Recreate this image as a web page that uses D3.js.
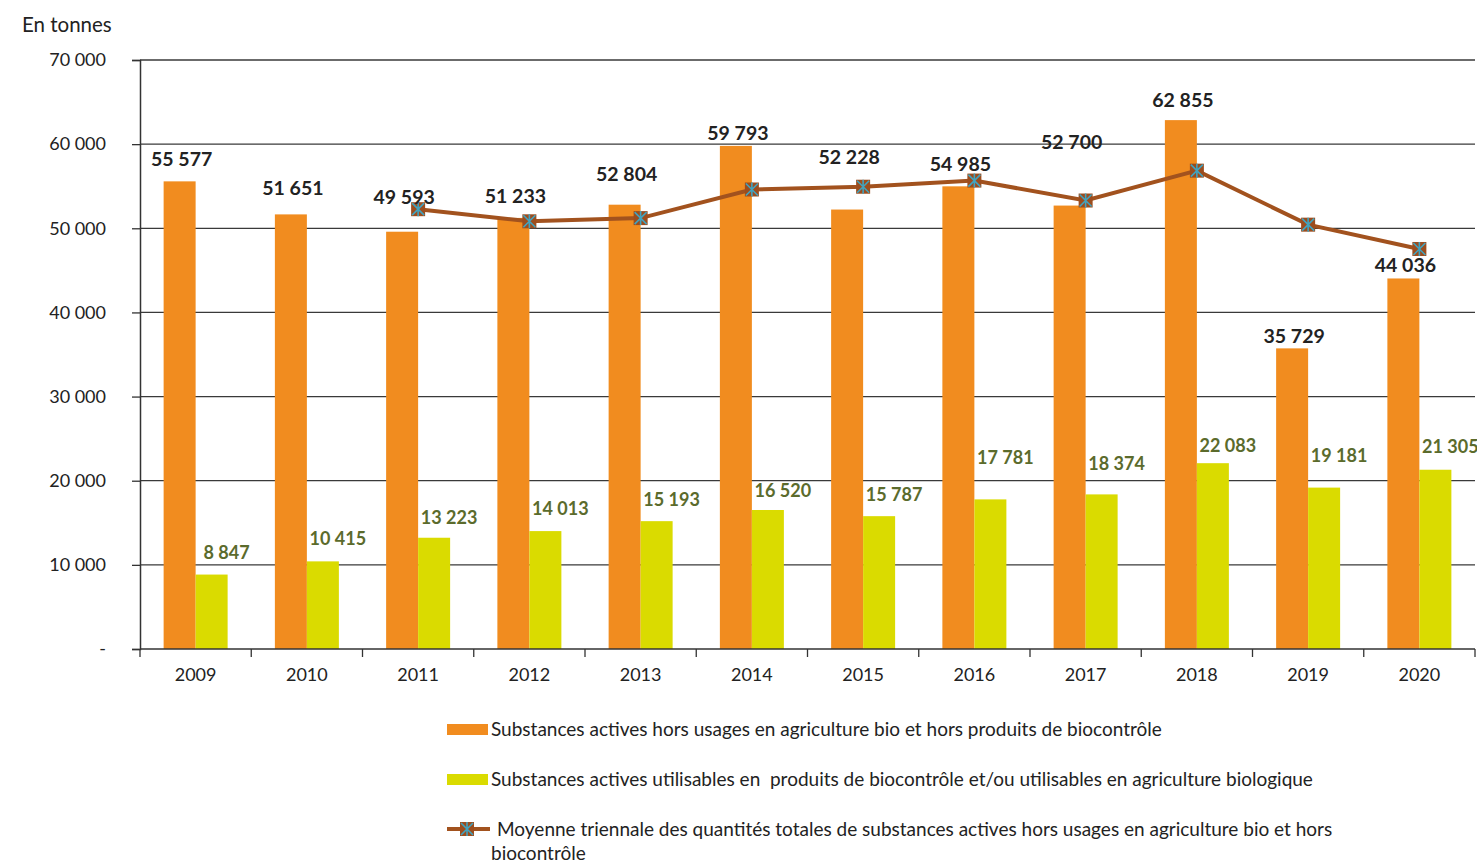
<!DOCTYPE html>
<html>
<head>
<meta charset="utf-8">
<style>
  body { margin: 0; background: #fff; }
  text { font-family: Lato, "Open Sans", sans-serif; white-space: pre; }
</style>
</head>
<body>
<script src="https://d3js.org/d3.v7.min.js"></script>
<script>
  // data
  var years = ['2009', '2010', '2011', '2012', '2013', '2014', '2015', '2016', '2017', '2018', '2019', '2020'];
  var horsBio = [55577, 51651, 49593, 51233, 52804, 59793, 52228, 54985, 52700, 62855, 35729, 44036];
  var biocontrole = [8847, 10415, 13223, 14013, 15193, 16520, 15787, 17781, 18374, 22083, 19181, 21305];
  var moyenneYears = ['2011', '2012', '2013', '2014', '2015', '2016', '2017', '2018', '2019', '2020'];
  var moyenne = [52270, 50830, 51210, 54610, 54940, 55670, 53300, 56850, 50430, 47540];
  var yTicks = [0, 10000, 20000, 30000, 40000, 50000, 60000, 70000];
  var legendLabels = [
    'Substances actives hors usages en agriculture bio et hors produits de biocontrôle',
    'Substances actives utilisables en  produits de biocontrôle et/ou utilisables en agriculture biologique',
    'Moyenne triennale des quantités totales de substances actives hors usages en agriculture bio et hors',
    'biocontrôle'
  ];

  // label lifts above bar tops (px), as placed in the original
  var orangeLift = [22, 26, 35, 22, 31, 13, 52, 22, 63, 20, 12, 13];
  var yellowLift = [22, 23, 20, 22, 21, 19, 21, 42, 31, 17, 32, 23];

  var W = 1477, H = 863;
  var colors = { orange: '#f18c1f', yellow: '#dadb00', line: '#a2521e', marker: '#9c4d1e', star: '#41a3bf' };
  var fmt = function(v) { return d3.format(',')(v).replace(/,/g, ' '); };

  var svg = d3.select('body').append('svg')
    .attr('width', W)
    .attr('height', H);

  var x = d3.scaleBand().domain(years).range([140, 1475]);
  var y = d3.scaleLinear().domain([0, 70000]).range([649, 60]);
  var barW = 32;

  // gridlines
  svg.append('g').selectAll('line')
    .data(yTicks.slice(1))
    .join('line')
      .attr('x1', 140).attr('x2', 1475)
      .attr('y1', d => y(d)).attr('y2', d => y(d))
      .attr('stroke', '#3a3a3a').attr('stroke-width', 1.3);

  // bars
  var g = svg.append('g');
  g.selectAll('.o').data(years).join('rect')
    .attr('x', d => x(d) + x.bandwidth() / 2 - barW)
    .attr('y', (d, i) => y(horsBio[i]))
    .attr('width', barW)
    .attr('height', (d, i) => y(0) - y(horsBio[i]))
    .attr('fill', colors.orange);
  g.selectAll('.yb').data(years).join('rect')
    .attr('x', d => x(d) + x.bandwidth() / 2)
    .attr('y', (d, i) => y(biocontrole[i]))
    .attr('width', barW)
    .attr('height', (d, i) => y(0) - y(biocontrole[i]))
    .attr('fill', colors.yellow);

  // axes
  var yAxis = svg.append('g')
    .attr('transform', 'translate(140,0)')
    .call(d3.axisLeft(y).tickValues(yTicks).tickSize(8).tickPadding(26)
      .tickFormat(d => d === 0 ? '-' : fmt(d)));
  yAxis.select('.domain').attr('stroke', '#333').attr('stroke-width', 1.5);
  yAxis.selectAll('.tick line').attr('stroke', '#333').attr('stroke-width', 1.3);
  yAxis.selectAll('text').attr('font-size', 18).attr('fill', '#222');

  svg.append('line')
    .attr('x1', 140).attr('x2', 1475)
    .attr('y1', y(0)).attr('y2', y(0))
    .attr('stroke', '#333').attr('stroke-width', 1.5);
  svg.append('g').selectAll('line')
    .data(years.concat(['end']))
    .join('line')
      .attr('x1', (d, i) => 140 + i * x.step())
      .attr('x2', (d, i) => 140 + i * x.step())
      .attr('y1', y(0)).attr('y2', y(0) + 8)
      .attr('stroke', '#333').attr('stroke-width', 1.3);
  svg.append('g').selectAll('text')
    .data(years)
    .join('text')
      .attr('x', d => x(d) + x.bandwidth() / 2)
      .attr('y', 681)
      .attr('text-anchor', 'middle')
      .attr('font-size', 18).attr('fill', '#222')
      .text(d => d);

  svg.append('text')
    .attr('x', 22).attr('y', 32)
    .attr('font-size', 20.5).attr('fill', '#222')
    .text('En tonnes');

  // line
  var line = d3.line()
    .x((d, i) => x(moyenneYears[i]) + x.bandwidth() / 2)
    .y(d => y(d));
  svg.append('path')
    .attr('d', line(moyenne))
    .attr('fill', 'none')
    .attr('stroke', colors.line)
    .attr('stroke-width', 4);

  function marker(sel) {
    sel.append('rect').attr('x', -7).attr('y', -7).attr('width', 14).attr('height', 14).attr('fill', colors.marker);
    sel.append('path').attr('d', 'M-6,-6L6,6M-6,6L6,-6M0,-7L0,7')
      .attr('stroke', colors.star).attr('stroke-width', 1.6);
  }
  svg.append('g').selectAll('g')
    .data(moyenne)
    .join('g')
      .attr('transform', (d, i) => `translate(${x(moyenneYears[i]) + x.bandwidth() / 2},${y(d)})`)
      .each(function() { marker(d3.select(this)); });

  // value labels
  svg.append('g').selectAll('text')
    .data(horsBio)
    .join('text')
      .attr('x', (d, i) => x(years[i]) + x.bandwidth() / 2 - barW / 2 + 2)
      .attr('y', (d, i) => y(d) - orangeLift[i])
      .attr('dy', '0.35em')
      .attr('text-anchor', 'middle')
      .attr('font-size', 19.5).attr('font-weight', 'bold').attr('fill', '#222')
      .text(d => fmt(d));
  svg.append('g').selectAll('text')
    .data(biocontrole)
    .join('text')
      .attr('x', (d, i) => x(years[i]) + x.bandwidth() / 2 + barW / 2 + 15)
      .attr('y', (d, i) => y(d) - yellowLift[i])
      .attr('dy', '0.35em')
      .attr('text-anchor', 'middle')
      .attr('font-size', 18).attr('font-weight', 'bold').attr('fill', '#5b6b2c')
      .text(d => fmt(d));

  // legend
  var leg = svg.append('g');
  leg.append('rect').attr('x', 447).attr('y', 724).attr('width', 41).attr('height', 11).attr('fill', colors.orange);
  leg.append('rect').attr('x', 447).attr('y', 774).attr('width', 41).attr('height', 11).attr('fill', colors.yellow);
  leg.append('line').attr('x1', 447).attr('x2', 490).attr('y1', 829).attr('y2', 829)
    .attr('stroke', colors.line).attr('stroke-width', 4);
  marker(leg.append('g').attr('transform', 'translate(467,829)'));
  leg.selectAll('text')
    .data(legendLabels)
    .join('text')
      .attr('x', (d, i) => i === 2 ? 497 : 491)
      .attr('y', (d, i) => [729, 779, 829, 853][i])
      .attr('dy', '0.35em')
      .attr('font-size', 19).attr('fill', '#222')
      .text(d => d);
</script>
</body>
</html>
